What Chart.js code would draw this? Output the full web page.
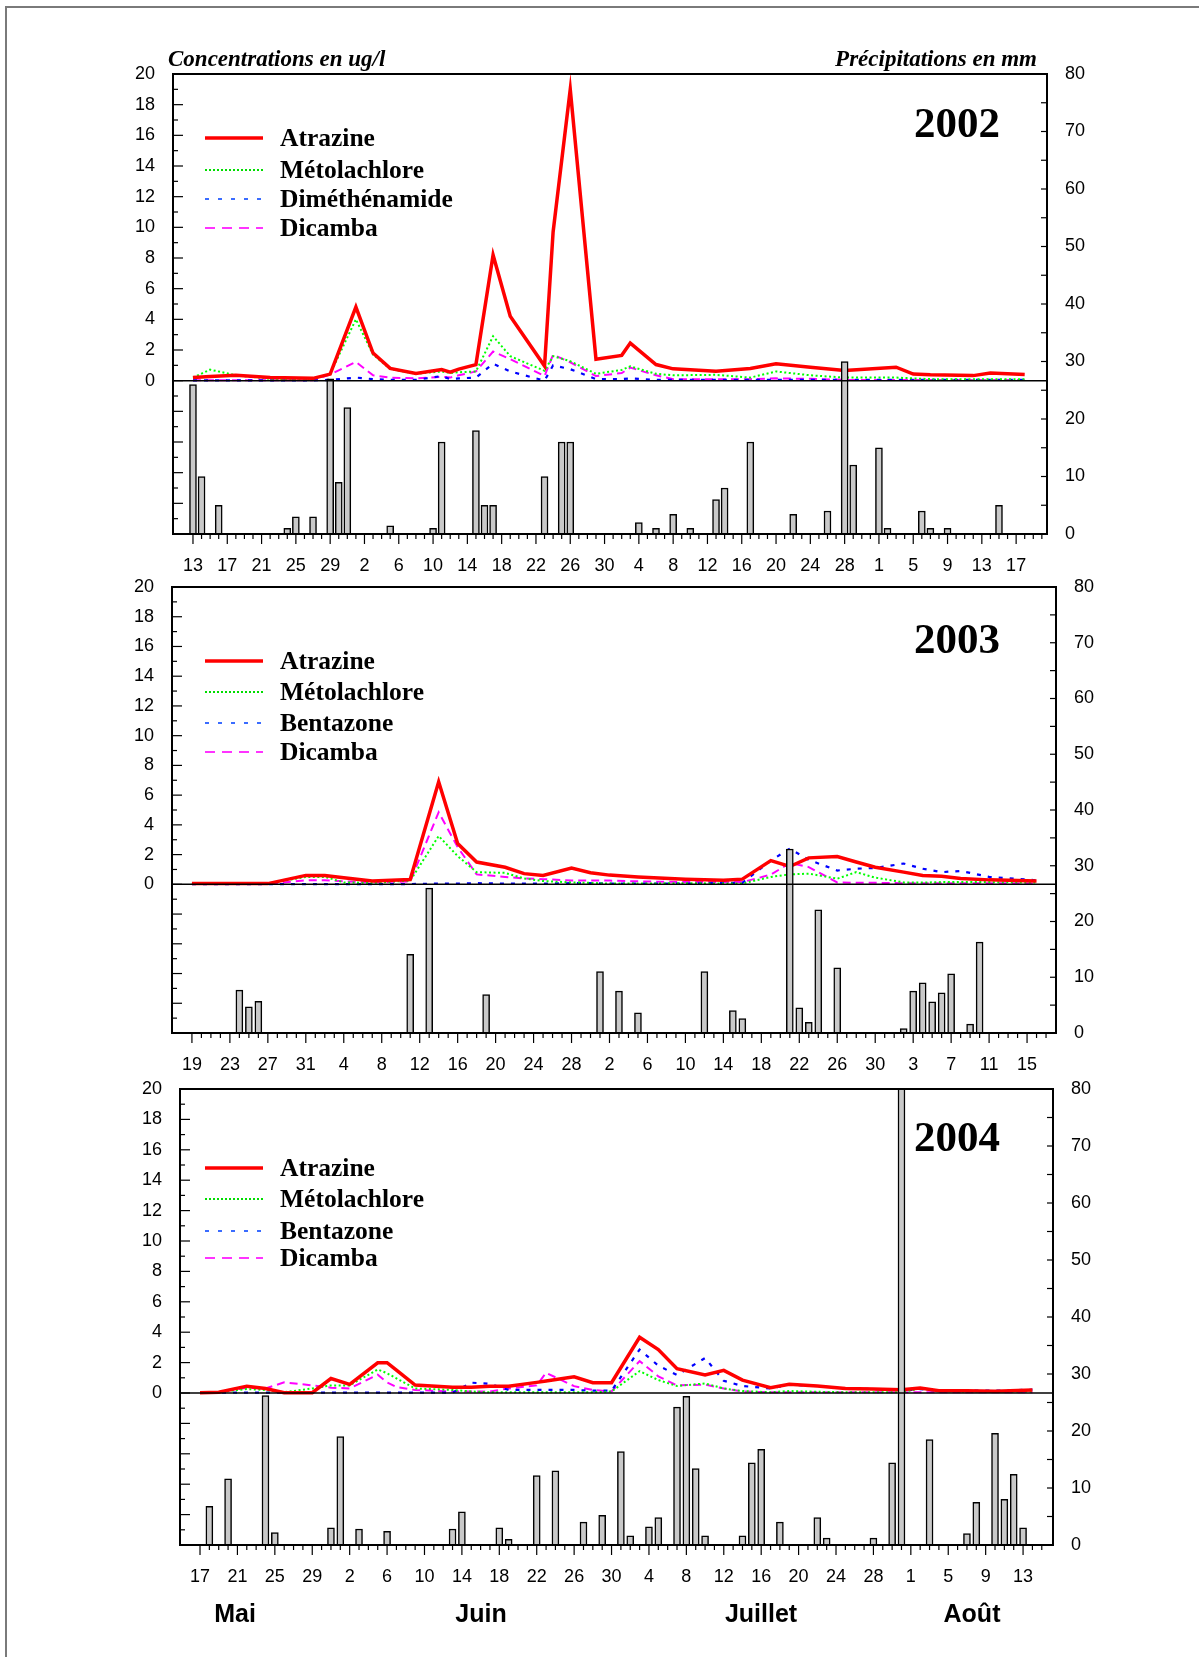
<!DOCTYPE html>
<html lang="fr">
<head>
<meta charset="utf-8">
<title>Concentrations et précipitations 2002-2004</title>
<script src="https://cdn.jsdelivr.net/npm/chart.js@4.4.1/dist/chart.umd.min.js"></script>
<style>
  body { margin: 0; background: #fff; width: 1199px; height: 1657px; position: relative; overflow: hidden;
         font-family: "Liberation Sans", Arial, sans-serif; }
  #frame { position: absolute; left: 5px; top: 6px; width: 1300px; height: 1720px; border: 2px solid #7a7a7a; }
  canvas { position: absolute; left: 0; }
  .serif { position: absolute; font-family: "Liberation Serif", "Times New Roman", serif; font-weight: bold;
           line-height: 1; transform: translateY(-50%); white-space: nowrap; color: #000; }
  .head { font-style: italic; font-size: 23px; }
  .year { font-size: 43px; }
  .leg { font-size: 25.5px; left: 280px; }
  .sample { position: absolute; left: 204px; width: 60px; height: 8px; transform: translateY(-50%); }
  .month { position: absolute; top: 1613px; transform: translate(-50%, -50%); font-weight: bold; font-size: 25px;
           line-height: 1; }
</style>
</head>
<body>
<div id="frame"></div>

<canvas id="c2002" width="1199" height="575" style="top:30px"></canvas>
<canvas id="c2003" width="1199" height="530" style="top:560px"></canvas>
<canvas id="c2004" width="1199" height="545" style="top:1065px"></canvas>

<!-- headers -->
<div class="serif head" style="left:168px; top:58px">Concentrations en ug/l</div>
<div class="serif head" style="right:162px; top:58px">Précipitations en mm</div>

<!-- years -->
<div class="serif year" style="left:914px; top:122px">2002</div>
<div class="serif year" style="left:914px; top:638px">2003</div>
<div class="serif year" style="left:914px; top:1136px">2004</div>

<div id="legends"></div>

<div class="month" style="left:235px">Mai</div>
<div class="month" style="left:481px">Juin</div>
<div class="month" style="left:761px">Juillet</div>
<div class="month" style="left:972px">Août</div>

<script>
// --- DATA (concentrations in ug/l, rain in mm, dates as MM-DD) ---
const dates2002 = ['05-13','05-15','05-18','05-22','05-27','05-29','06-01','06-03','06-05','06-08',
  '06-11','06-12','06-13','06-15','06-17','06-19','06-23','06-24','06-26','06-29',
  '07-02','07-03','07-06','07-08','07-13','07-17','07-20','07-24','07-28','08-03',
  '08-05','08-07','08-12','08-14','08-18'];
const atrazine2002 = [0.2,0.27,0.35,0.2,0.15,0.43,4.8,1.8,0.8,0.47, 0.72,0.55,0.75,1.05,8.2,4.2,0.95,9.7,19.0,1.4,
  1.65,2.45,1.05,0.77,0.62,0.8,1.1,0.88,0.66,0.88, 0.43,0.38,0.33,0.5,0.4];
const metolachlore2002 = [0.2,0.72,0.35,0.12,0.1,0.45,4.0,1.7,0.76,0.45, 0.6,0.5,0.55,0.6,2.9,1.6,0.64,1.6,1.27,0.45,
  0.7,0.93,0.45,0.35,0.38,0.2,0.6,0.35,0.2,0.2, 0.15,0.1,0.1,0.1,0.1];
const dimethenamide2002 = [0.02,0.02,0.02,0.02,0.02,0.05,0.2,0.1,0.05,0.05, 0.3,0.1,0.15,0.2,1.1,0.6,0.0,1.0,0.75,0.1,
  0.1,0.15,0.05,0.05,0.05,0.05,0.05,0.05,0.05,0.05, 0.05,0.05,0.05,0.05,0.05];
const dicamba2002 = [0.02,0.02,0.02,0.02,0.02,0.4,1.22,0.35,0.2,0.15, 0.25,0.2,0.35,0.6,1.9,1.4,0.3,1.7,1.2,0.3,
  0.5,0.85,0.35,0.1,0.1,0.1,0.15,0.12,0.05,0.05, 0.05,0.05,0.05,0.05,0.05];
const rainDates2002 = ['05-13','05-14','05-16','05-24','05-25','05-27','05-29','05-30','05-31','06-05',
  '06-10','06-11','06-15','06-16','06-17','06-23','06-25','06-26','07-04','07-06',
  '07-08','07-10','07-13','07-14','07-17','07-22','07-26','07-28','07-29','08-01',
  '08-02','08-06','08-07','08-09','08-15'];
const rain2002 = [26,10,5,1,3,3,27,9,22,1.4, 1,16,18,5,5,10,16,16,2,1, 3.4,1,6,8,16,3.4,4,30,12,15, 1,4,1,1,5];
const tickLabels2002 = [13,17,21,25,29,2,6,10,14,18,22,26,30,4,8,12,16,20,24,28,1,5,9,13,17];

const dates2003 = ['05-19','05-23','05-27','05-31','06-02','06-04','06-07','06-11','06-14','06-16',
  '06-18','06-21','06-23','06-25','06-28','06-30','07-02','07-05','07-10','07-14',
  '07-16','07-19','07-21','07-23','07-26','07-28','07-30','08-02','08-04','08-06',
  '08-08','08-11','08-16'];
const atrazine2003 = [0.05,0.05,0.05,0.6,0.6,0.45,0.22,0.32,6.9,2.75, 1.5,1.15,0.72,0.6,1.1,0.78,0.62,0.5,0.35,0.28,
  0.35,1.6,1.2,1.78,1.87,1.5,1.15,0.82,0.6,0.55, 0.4,0.3,0.22];
const metolachlore2003 = [0.03,0.05,0.05,0.5,0.5,0.13,0.1,0.25,3.25,1.9, 0.82,0.77,0.4,0.22,0.13,0.1,0.05,0.05,0.08,0.05,
  0.05,0.5,0.67,0.72,0.38,0.82,0.45,0.13,0.12,0.15, 0.15,0.15,0.12];
const bentazone2003 = [0.02,0.02,0.02,0.02,0.02,0.02,0.02,0.02,0.05,0.05, 0.08,0.05,0.05,0.05,0.08,0.08,0.05,0.05,0.05,0.1,
  0.1,1.6,2.4,1.65,0.93,1.05,1.1,1.4,1.05,0.82, 0.9,0.5,0.27];
const dicamba2003 = [0.02,0.02,0.02,0.27,0.27,0.2,0.13,0.2,4.85,2.5, 0.67,0.5,0.4,0.35,0.25,0.25,0.25,0.2,0.15,0.15,
  0.15,0.65,1.43,1.16,0.13,0.1,0.1,0.08,0.08,0.08, 0.08,0.08,0.08];
const rainDates2003 = ['05-24','05-25','05-26','06-11','06-13','06-19','07-01','07-03','07-05','07-12',
  '07-15','07-16','07-21','07-22','07-23','07-24','07-26','08-02','08-03','08-04',
  '08-05','08-06','08-07','08-09','08-10'];
const rain2003 = [7.7,4.7,5.7,14.1,26,6.9,11,7.5,3.6,11, 4,2.6,33,4.5,1.9,22.1,11.7,0.8,7.5,9, 5.6,7.2,10.6,1.6,16.3];
const tickLabels2003 = [19,23,27,31,4,8,12,16,20,24,28,2,6,10,14,18,22,26,30,3,7,11,15];

const dates2004 = ['05-17','05-19','05-22','05-24','05-26','05-29','05-31','06-02','06-05','06-06',
  '06-07','06-09','06-13','06-15','06-17','06-19','06-22','06-23','06-26','06-28',
  '06-30','07-03','07-05','07-07','07-10','07-12','07-14','07-17','07-19','07-22',
  '07-25','07-28','07-31','08-02','08-04','08-07','08-10','08-14'];
const atrazine2004 = [0.02,0.05,0.45,0.3,0.02,0.02,0.95,0.57,1.99,1.99, 1.5,0.52,0.38,0.38,0.45,0.45,0.7,0.79,1.07,0.68,
  0.68,3.67,2.86,1.6,1.18,1.49,0.85,0.35,0.57,0.46, 0.3,0.26,0.22,0.33,0.15,0.15,0.12,0.2];
const metolachlore2004 = [0.02,0.05,0.26,0.2,0.05,0.3,0.5,0.5,1.55,1.3, 0.96,0.3,0.2,0.1,0.05,0.05,0.05,0.05,0.05,0.05,
  0.1,1.44,0.85,0.46,0.63,0.3,0.13,0.05,0.13,0.08, 0.05,0.05,0.05,0.3,0.12,0.1,0.1,0.1];
const bentazone2004 = [0.02,0.02,0.02,0.02,0.02,0.02,0.02,0.02,0.02,0.02, 0.02,0.02,0.02,0.68,0.6,0.2,0.2,0.2,0.2,0.15,
  0.15,2.86,1.8,1.18,2.3,0.8,0.46,0.3,0.55,0.45, 0.3,0.26,0.15,0.25,0.15,0.15,0.15,0.22];
const dicamba2004 = [0.02,0.05,0.35,0.3,0.7,0.5,0.35,0.3,1.2,0.7, 0.4,0.2,0.1,0.1,0.1,0.3,0.5,1.33,0.45,0.2,
  0.1,2.1,1.1,0.5,0.55,0.3,0.1,0.05,0.05,0.05, 0.05,0.05,0.05,0.05,0.05,0.05,0.05,0.05];
const rainDates2004 = ['05-18','05-20','05-24','05-25','05-31','06-01','06-03','06-06','06-13','06-14',
  '06-18','06-19','06-22','06-24','06-27','06-29','07-01','07-02','07-04','07-05',
  '07-07','07-08','07-09','07-10','07-14','07-15','07-16','07-18','07-22','07-23',
  '07-28','07-30','07-31','08-03','08-07','08-08','08-10','08-11','08-12','08-13'];
const rain2004 = [6.8,11.6,26.2,2.2,3.0,19,2.8,2.4,2.8,5.8, 3.0,1.0,12.2,13,4,5.2,16.4,1.6,3.2,4.8,
  24.2,26.1,13.4,1.6,1.6,14.4,16.8,4,4.8,1.2, 1.2,14.4,85,18.5,2.0,7.5,19.6,8.0,12.4,3.0];
const tickLabels2004 = [17,21,25,29,2,6,10,14,18,22,26,30,4,8,12,16,20,24,28,1,5,9,13];

const names2002 = ['Atrazine', 'Métolachlore', 'Diméthénamide', 'Dicamba'];
const names2003 = ['Atrazine', 'Métolachlore', 'Bentazone', 'Dicamba'];

// --- STYLES & LAYOUT ---
const lineStyles = [
  { color: '#ff0000', width: 3.5, dash: [] },
  { color: '#00ff00', width: 2, dash: [2, 2.5] },
  { color: '#0000ff', width: 2.2, dash: [4, 7] },
  { color: '#ff00ff', width: 2, dash: [8, 5] },
];
const legendStyles = [
  { color: '#ff0000', width: 3.5, dash: '' },
  { color: '#00dd00', width: 2, dash: '2 2' },
  { color: '#3a6cff', width: 1.8, dash: '4 9' },
  { color: '#ff33ff', width: 1.8, dash: '10 7' },
];

const panels = [
  { id: 'c2002', padTop: 44, xHeight: 71, leftW: 173, rightW: 152, xMin: 9.67, xMax: 111.6,
    firstTick: '05-13', tickLabels: tickLabels2002, dates: dates2002,
    series: [atrazine2002, metolachlore2002, dimethenamide2002, dicamba2002], names: names2002,
    rainDates: rainDates2002, rain: rain2002, legendY: [138, 170, 199, 228] },
  { id: 'c2003', padTop: 27, xHeight: 57, leftW: 172, rightW: 143, xMin: 15.9, xMax: 109.05,
    firstTick: '05-19', tickLabels: tickLabels2003, dates: dates2003,
    series: [atrazine2003, metolachlore2003, bentazone2003, dicamba2003], names: names2003,
    rainDates: rainDates2003, rain: rain2003, legendY: [661, 692, 723, 752] },
  { id: 'c2004', padTop: 24, xHeight: 65, leftW: 180, rightW: 146, xMin: 13.86, xMax: 107.2,
    firstTick: '05-17', tickLabels: tickLabels2004, dates: dates2004,
    series: [atrazine2004, metolachlore2004, bentazone2004, dicamba2004], names: names2003,
    rainDates: rainDates2004, rain: rain2004, legendY: [1168, 1199, 1231, 1258] },
];

// month -> offset so that May 1 = 0
const monthOffset = { 5: -1, 6: 30, 7: 60, 8: 91 };
function dayIndex(s) {
  const [m, d] = s.split('-').map(Number);
  return monthOffset[m] + d;
}
function toPoints(dates, values) {
  return dates.map((d, i) => ({ x: dayIndex(d), y: values[i] }));
}

// Frame, zero line and inward/outward tick marks, drawn from the chart's scales
const axisDecor = {
  id: 'axisDecor',
  afterDatasetsDraw(chart, args, opts) {
    const { ctx, chartArea: a, scales: { x, yL, yR } } = chart;
    const seg = (x1, y1, x2, y2) => { ctx.beginPath(); ctx.moveTo(x1, y1); ctx.lineTo(x2, y2); ctx.stroke(); };
    ctx.save();
    ctx.strokeStyle = '#000';
    ctx.lineWidth = 1.5;
    const y0 = yL.getPixelForValue(0);
    seg(a.left, y0, a.right, y0);

    ctx.lineWidth = 1.2;
    for (let v = -9; v < 20; v++) {
      const y = yL.getPixelForValue(v);
      seg(a.left, y, a.left + (v % 2 === 0 ? 10 : 5), y);
    }
    for (let v = 5; v < 80; v += 5) {
      const y = yR.getPixelForValue(v);
      seg(a.right - 6, y, a.right, y);
    }
    const first = opts.first, last = opts.first + 4 * (opts.count - 1);
    for (let d = first; d <= x.max - 0.5; d++) {
      const px = x.getPixelForValue(d);
      const major = (d - first) % 4 === 0 && d <= last;
      seg(px, a.bottom, px, a.bottom + (major ? 10 : 5));
    }
    ctx.lineWidth = 2;
    ctx.strokeRect(a.left, a.top, a.right - a.left, a.bottom - a.top);
    ctx.restore();
  }
};

Chart.defaults.font.family = "'Liberation Sans', Arial, sans-serif";
Chart.defaults.font.size = 18;
Chart.defaults.color = '#000';

function makePanel(p) {
  const first = dayIndex(p.firstTick);
  const tickValues = p.tickLabels.map((_, i) => first + 4 * i);

  const datasets = [{
    type: 'bar',
    data: toPoints(p.rainDates, p.rain),
    yAxisID: 'yR',
    backgroundColor: '#c9c9c9',
    borderColor: '#000',
    borderWidth: 1.5,
    borderSkipped: 'bottom',
    barThickness: 7,
    clip: 0,
    order: 0
  }];
  p.series.forEach((vals, i) => {
    const s = lineStyles[i];
    datasets.push({
      type: 'line',
      label: p.names[i],
      data: toPoints(p.dates, vals),
      yAxisID: 'yL',
      borderColor: s.color,
      borderWidth: s.width,
      borderDash: s.dash,
      pointRadius: 0,
      tension: 0,
      fill: false,
      order: i + 1
    });
  });

  new Chart(document.getElementById(p.id), {
    type: 'bar',
    data: { datasets },
    options: {
      responsive: false,
      animation: false,
      events: [],
      layout: { padding: { top: p.padTop, left: 0, right: 0, bottom: 0 } },
      plugins: {
        legend: { display: false },
        tooltip: { enabled: false },
        axisDecor: { first: first, count: p.tickLabels.length }
      },
      scales: {
        x: {
          type: 'linear', min: p.xMin, max: p.xMax, offset: false,
          grid: { display: false }, border: { display: false },
          afterBuildTicks: s => { s.ticks = tickValues.map(v => ({ value: v })); },
          afterFit: s => { s.height = p.xHeight; },
          ticks: { autoSkip: false, maxRotation: 0, padding: 13,
                   callback: (v, i) => p.tickLabels[i] }
        },
        yL: {
          position: 'left', min: -10, max: 20,
          grid: { display: false }, border: { display: false },
          afterFit: s => { s.width = p.leftW; },
          ticks: { stepSize: 1, autoSkip: false, padding: 10,
                   callback: v => (v >= 0 && v % 2 === 0) ? v : '' }
        },
        yR: {
          position: 'right', min: 0, max: 80,
          grid: { display: false }, border: { display: false },
          afterFit: s => { s.width = p.rightW; },
          ticks: { stepSize: 10, autoSkip: false, padding: 10 }
        }
      }
    },
    plugins: [axisDecor]
  });
}

// Legends as real text next to little line samples
function renderLegends() {
  let html = '';
  panels.forEach(p => {
    p.names.forEach((name, i) => {
      const s = legendStyles[i];
      const y = p.legendY[i];
      html += `<svg class="sample" style="top:${y}px" viewBox="0 0 60 8">
        <line x1="1" y1="4" x2="59" y2="4" stroke="${s.color}" stroke-width="${s.width}" stroke-dasharray="${s.dash}"/>
      </svg>`;
      html += `<div class="serif leg" style="top:${y}px">${name}</div>`;
    });
  });
  document.getElementById('legends').innerHTML = html;
}

panels.forEach(makePanel);
renderLegends();
</script>
</body>
</html>
